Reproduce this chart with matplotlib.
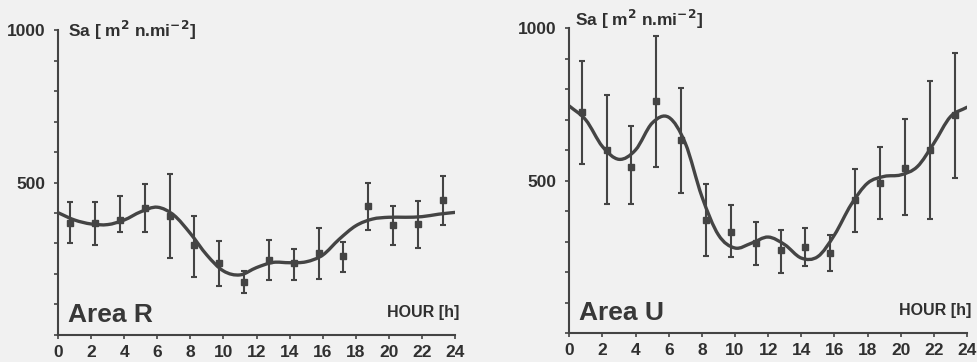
import numpy as np
from matplotlib import pyplot as plt
from matplotlib.path import Path
from matplotlib.patches import PathPatch

plt.rcParams['font.family'] = ['Liberation Sans', 'DejaVu Sans']

# sampled hours (midpoints of 1.5 h bins)
hours = [0.75, 2.25, 3.75, 5.25, 6.75, 8.25, 9.75, 11.25,
         12.75, 14.25, 15.75, 17.25, 18.75, 20.25, 21.75, 23.25]

# Area R: means and error bar ends
r_mean = [368, 366, 377, 415, 390, 295, 237, 175, 246, 235, 268, 259, 424, 361, 364, 443]
r_top = [435, 435, 456, 494, 528, 391, 308, 211, 311, 283, 352, 304, 499, 424, 439, 521]
r_bot = [303, 295, 337, 337, 251, 189, 162, 137, 180, 180, 183, 208, 344, 295, 286, 361]

# Area U
u_mean = [725, 601, 546, 762, 634, 372, 331, 295, 271, 282, 262, 437, 492, 541, 601, 716]
u_top = [893, 781, 681, 975, 803, 490, 419, 366, 339, 344, 322, 538, 612, 702, 827, 918]
u_bot = [554, 424, 424, 546, 461, 254, 249, 222, 197, 219, 204, 333, 375, 388, 375, 510]

# fitted curves, read hourly
curve_hours = list(range(25))
r_curve = [401, 377, 364, 362, 377, 404, 419, 393, 333, 262, 210, 197, 221,
           238, 237, 240, 262, 314, 358, 380, 386, 386, 388, 396, 402]
u_curve = [745, 699, 612, 570, 601, 689, 708, 623, 448, 322, 279, 295, 315,
           290, 246, 251, 322, 421, 492, 514, 519, 546, 623, 710, 741]

ink = "#444444"
txt = "#303030"
bg = "#f1f1f1"


def smooth_path(xs, ys):
    # cubic bezier segments through every read point (catmull-rom handles)
    pts = np.column_stack([xs, ys]).astype(float)
    ext = np.vstack([2 * pts[0] - pts[1], pts, 2 * pts[-1] - pts[-2]])
    verts = [pts[0]]
    codes = [Path.MOVETO]
    for i in range(1, len(ext) - 2):
        p0, p1, p2, p3 = ext[i - 1], ext[i], ext[i + 1], ext[i + 2]
        verts += [p1 + (p2 - p0) / 6, p2 - (p3 - p1) / 6, p2]
        codes += [Path.CURVE4] * 3
    return Path(verts, codes)


fig = plt.figure(figsize=(9.77, 3.62), dpi=100, facecolor=bg)
ax_r = fig.add_axes([0.0594, 0.0746, 0.4063, 0.8425])
ax_u = fig.add_axes([0.5827, 0.080, 0.4071, 0.8418])


def draw(ax, mean, top, bot, curve, name, ylab_x, ylab_y):
    ax.set_facecolor("none")
    mean = np.array(mean)
    yerr = [mean - np.array(bot), np.array(top) - mean]
    ax.errorbar(hours, mean, yerr=yerr, fmt="s", ms=4, color=ink,
                ecolor=ink, elinewidth=1.5, capsize=2.5, capthick=1.5)
    ax.add_patch(PathPatch(smooth_path(curve_hours, curve), fc="none",
                           ec=ink, lw=2.4, capstyle="round"))
    ax.set_xlim(0, 24)
    ax.set_ylim(0, 1000)
    ax.set_xticks(range(0, 25, 2))
    ax.set_yticks(range(0, 1001, 100))
    ax.set_yticklabels(["1000" if v == 1000 else "500" if v == 500 else ""
                        for v in range(0, 1001, 100)])
    for s in ("top", "right"):
        ax.spines[s].set_visible(False)
    for s in ("left", "bottom"):
        ax.spines[s].set_color(ink)
        ax.spines[s].set_linewidth(1.5)
    ax.tick_params(axis="both", colors=ink, width=1.2, length=3,
                   labelsize=12.5, labelcolor=txt)
    ax.tick_params(axis="y", pad=6)
    ax.tick_params(axis="x", pad=4)
    for lab in ax.get_xticklabels() + ax.get_yticklabels():
        lab.set_fontweight("bold")
    ax.text(ylab_x, ylab_y, "Sa [ m$^{\\mathbf{2}}$ n.mi$^{\\mathbf{-2}}$]",
            transform=ax.transAxes, fontsize=12.5, fontweight="bold",
            color=txt, va="center", ha="left")
    ax.text(0.025, 0.065, name, transform=ax.transAxes, fontsize=19,
            fontweight="bold", color="#383838", va="center", ha="left")
    ax.text(1.01, 0.075, "HOUR [h]", transform=ax.transAxes, fontsize=11.5,
            fontweight="bold", color=txt, va="center", ha="right")


draw(ax_r, r_mean, r_top, r_bot, r_curve, "Area R", 0.025, 1.0)
draw(ax_u, u_mean, u_top, u_bot, u_curve, "Area U", 0.015, 1.03)

fig.savefig("out.png", dpi=100, facecolor=bg)
